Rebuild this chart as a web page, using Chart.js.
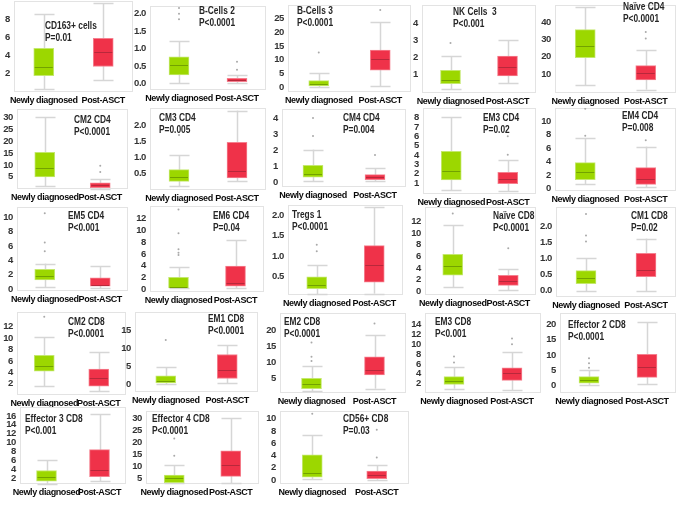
<!DOCTYPE html>
<html lang="en">
<head>
<meta charset="UTF-8">
<title>Newly diagnosed vs Post-ASCT</title>
<style>
  body { margin: 0; background: #fff; }
  #wrap { position: relative; width: 685px; height: 505px; overflow: hidden; }
  #wrap canvas { position: absolute; }
  .ttl {
    position: absolute;
    font: bold 11px 'Liberation Sans', Arial, sans-serif;
    line-height: 12px;
    color: #262626;
    white-space: pre;
    transform: scaleX(0.76);
    transform-origin: 0 0;
  }
</style>
</head>
<body>
<div id="wrap"></div>

<script src="https://cdn.jsdelivr.net/npm/chart.js"></script>
<script>
// groups on every x axis
const groups = ['Newly diagnosed', 'Post-ASCT'];

const cellTypes = [
  'CD163+ cells', 'B-Cells 2', 'B-Cells 3', 'NK Cells  3', 'Naïve CD4',
  'CM2 CD4', 'CM3 CD4', 'CM4 CD4', 'EM3 CD4', 'EM4 CD4',
  'EM5 CD4', 'EM6 CD4', 'Tregs 1', 'Naïve CD8', 'CM1 CD8',
  'CM2 CD8', 'EM1 CD8', 'EM2 CD8', 'EM3 CD8', 'Effector 2 CD8',
  'Effector 3 CD8', 'Effector 4 CD8', 'CD56+ CD8'
];

const pValues = [
  'P=0.01', 'P<0.0001', 'P<0.0001', 'P<0.001', 'P<0.0001',
  'P<0.0001', 'P=0.005', 'P=0.004', 'P=0.02', 'P=0.008',
  'P<0.001', 'P=0.04', 'P<0.0001', 'P<0.0001', 'P=0.02',
  'P<0.0001', 'P<0.0001', 'P<0.0001', 'P<0.001', 'P<0.0001',
  'P<0.001', 'P<0.0001', 'P=0.03'
];

// [min, q1, median, q3, max]
const newlyBox = [
  [0.3, 1.8, 2.7, 4.8, 8.6], [0.02, 0.25, 0.53, 0.77, 1.21], [0.2, 0.6, 1.4, 2.5, 5.1],
  [0.15, 0.48, 0.67, 1.26, 2.09], [3.9, 19.5, 26.5, 35.7, 48.6],
  [1.2, 5, 8.9, 15.3, 30], [0.09, 0.24, 0.38, 0.61, 1.07], [0.04, 0.3, 0.5, 1.04, 2.04],
  [0.24, 1.34, 2.3, 4.4, 8.07], [0.7, 1.3, 2.4, 3.85, 7.55],
  [0.22, 1.29, 1.78, 2.76, 3.56], [0.16, 0.27, 0.43, 2.05, 3.84], [0.08, 0.21, 0.29, 0.5, 0.79],
  [0.7, 2.75, 4.4, 6.35, 11.4], [0, 0.22, 0.4, 0.63, 1.01],
  [1.6, 4.2, 5.2, 7, 10.2], [0.26, 0.53, 1.14, 2.46, 4.9], [1, 1.8, 3.3, 5, 9],
  [0.97, 1.8, 2.6, 3.4, 5.35], [0.1, 0.8, 1.9, 2.94, 5],
  [0.7, 1.3, 2.2, 3.7, 6.0], [2.9, 3.2, 5, 6.4, 10.6], [0.23, 0.47, 1.16, 4.1, 7.35]
];
const postBox = [
  [1.35, 2.8, 4.4, 5.9, 9.8], [0.02, 0.06, 0.11, 0.15, 0.25], [0.6, 6.3, 10.4, 13.5, 23.5],
  [0.54, 0.94, 1.44, 2.09, 3.02], [1.1, 6.6, 10.9, 14.9, 24.1],
  [0.1, 0.5, 1.4, 2.5, 4.1], [0.24, 0.35, 0.56, 1.47, 2.47], [0.04, 0.14, 0.3, 0.46, 0.9],
  [0.14, 0.93, 1.45, 2.14, 3.5], [0.15, 0.6, 1.35, 3.1, 6.25],
  [0.09, 0.4, 0.5, 1.56, 3.2], [0.16, 0.54, 1.0, 3.95, 8.4], [0.09, 0.37, 0.79, 1.26, 2.19],
  [0.17, 1, 1.8, 2.75, 3.75], [0, 0.44, 0.64, 1.16, 1.62],
  [0.7, 1.6, 2.95, 4.6, 7.55], [0.5, 1.75, 4, 8.4, 11.05], [1.8, 6.1, 7.6, 11.8, 18.6],
  [0.7, 2.65, 4.05, 5.2, 8.4], [0.6, 2.7, 6.0, 10.2, 20.7],
  [1.3, 2.3, 3.9, 8.4, 16.4], [2.9, 5.8, 10.6, 16.5, 30.2], [0.1, 0.23, 0.8, 1.49, 2.42]
];

const newlyOutliers = [
  [], [1.84, 2.0, 2.16], [12.7], [2.85], [],
  [], [1.7], [2.9, 4.04], [], [7.85, 11.9],
  [5.3, 6.5, 10.6], [5.8, 6.2, 6.8, 9.5, 13.5], [1.12, 1.28], [13.4], [1.53, 1.72, 2.38],
  [13.7], [12.4], [10.5, 11.8, 16.3], [6.3, 7.5], [5.8, 7.3, 8.9],
  [], [14.5, 21.7], [10.8]
];
const postOutliers = [
  [], [0.4, 0.63], [28], [], [30.6, 34.3],
  [7, 9.7], [], [1.7], [4.03, 6], [7.2],
  [], [], [], [7.4], [],
  [], [], [22.3], [10, 11.2], [],
  [], [], [3.7, 8.2]
];

const yTicks = [
  [2, 4, 6, 8], [0, 0.5, 1, 1.5, 2], [0, 5, 10, 15, 20, 25], [1, 2, 3, 4], [10, 20, 30, 40],
  [5, 10, 15, 20, 25, 30], [0.5, 1, 1.5, 2], [0, 1, 2, 3, 4], [1, 2, 3, 4, 5, 6, 7, 8], [0, 2, 4, 6, 8, 10],
  [0, 2, 4, 6, 8, 10], [0, 2, 4, 6, 8, 10, 12], [0.5, 1, 1.5, 2], [0, 2, 4, 6, 8, 10, 12], [0, 0.5, 1, 1.5, 2],
  [2, 4, 6, 8, 10, 12], [0, 5, 10, 15], [5, 10, 15, 20], [2, 4, 6, 8, 10, 12, 14], [0, 5, 10, 15, 20],
  [2, 4, 6, 8, 10, 12, 14, 16], [5, 10, 15, 20, 25, 30], [0, 2, 4, 6, 8, 10]
];
const yLimits = [
  [0, 10], [-0.18, 2.22], [-1.6, 29.8], [-0.06, 5.06], [-0.9, 49.9],
  [-0.1, 33.5], [-0.03, 2.55], [-0.32, 4.6], [-0.17, 9.03], [-0.39, 12.0],
  [-0.27, 11.47], [-0.44, 14.1], [0.056, 2.25], [-0.66, 14.5], [-0.19, 2.6],
  [0.05, 14.55], [-2.0, 20.2], [0.4, 25.6], [0.06, 16.4], [-2.4, 23.7],
  [0.65, 18.0], [2.62, 33.2], [-0.62, 11.23]
];

// layout: plot area [left, top, right, bottom] and title [left, top]
const frames = [
  [14, 1, 133, 92, 45, 19], [150, 2, 270, 90, 199, 4], [288, 1, 415, 92, 297, 4],
  [422, 1, 540, 93, 453, 5], [555, 1, 680, 93, 623, 0],
  [17, 105, 132, 189, 74, 113], [150, 104, 270, 190, 159, 111], [282, 105, 410, 187, 343, 111],
  [423, 104, 540, 194, 483, 111], [555, 104, 680, 191, 622, 109],
  [17, 203, 132, 291, 68, 209], [150, 202, 268, 292, 213, 209], [288, 201, 407, 295, 292, 208],
  [425, 203, 540, 295, 493, 209], [556, 203, 680, 297, 631, 209],
  [17, 308, 130, 395, 68, 315], [135, 308, 262, 392, 208, 312], [280, 309, 410, 393, 284, 315],
  [425, 309, 545, 393, 435, 315], [560, 309, 680, 393, 568, 318],
  [20, 407, 126, 484, 25, 412], [146, 407, 263, 484, 152, 412], [280, 407, 413, 484, 343, 412]
];

const AXIS_W = 20;
const AXIS_H = 16;
const BOX_W = 20;
const fillColors = ['#9cd700', '#ef3249'];
const edgeColors = ['#c4e86e', '#f5808f'];
const medianColors = ['#72a200', '#b8283b'];
const FONT = "'Liberation Sans', Arial, sans-serif";

// whiskers, caps, medians and the plot frame, all placed with the chart's scales
const boxParts = {
  id: 'boxParts',
  beforeDraw(chart) {
    chart.ctx.letterSpacing = '-0.4px';
  },
  beforeDatasetsDraw(chart, args, opts) {
    const { ctx, chartArea: a } = chart;
    const x = chart.scales.x, y = chart.scales.y;
    ctx.save();
    ctx.strokeStyle = '#e3e3e3';
    ctx.lineWidth = 1;
    ctx.strokeRect(a.left + 0.5, a.top + 0.5, a.width - 1, a.height - 1);
    ctx.strokeStyle = '#d6d6d6';
    ctx.lineWidth = 1.5;
    opts.stats.forEach((s, i) => {
      const cx = Math.round(x.getPixelForValue(i)) + 0.5;
      ctx.beginPath();
      ctx.moveTo(cx, y.getPixelForValue(s[0]));
      ctx.lineTo(cx, y.getPixelForValue(s[4]));
      [s[0], s[4]].forEach(v => {
        const py = Math.round(y.getPixelForValue(v)) + 0.5;
        ctx.moveTo(cx - BOX_W / 2, py);
        ctx.lineTo(cx + BOX_W / 2, py);
      });
      ctx.stroke();
    });
    ctx.restore();
  },
  afterDatasetsDraw(chart, args, opts) {
    const { ctx } = chart;
    const x = chart.scales.x, y = chart.scales.y;
    ctx.save();
    ctx.lineWidth = 1;
    opts.stats.forEach((s, i) => {
      const cx = x.getPixelForValue(i);
      const py = Math.round(y.getPixelForValue(s[2])) + 0.5;
      ctx.strokeStyle = medianColors[i];
      ctx.beginPath();
      ctx.moveTo(cx - BOX_W / 2 + 1, py);
      ctx.lineTo(cx + BOX_W / 2 - 1, py);
      ctx.stroke();
    });
    ctx.restore();
  }
};

const wrap = document.getElementById('wrap');

cellTypes.forEach((name, k) => {
  const [L, T, R, B, tx, ty] = frames[k];
  const canvas = document.createElement('canvas');
  canvas.width = R - L + AXIS_W;
  canvas.height = B - T + AXIS_H;
  canvas.style.left = (L - AXIS_W) + 'px';
  canvas.style.top = T + 'px';
  wrap.appendChild(canvas);

  const title = document.createElement('div');
  title.className = 'ttl';
  title.style.left = tx + 'px';
  title.style.top = ty + 'px';
  title.textContent = name + '\n' + pValues[k];
  wrap.appendChild(title);

  const stats = [newlyBox[k], postBox[k]];
  const dots = [];
  newlyOutliers[k].forEach(v => dots.push({ x: groups[0], y: v }));
  postOutliers[k].forEach(v => dots.push({ x: groups[1], y: v }));
  const ticks = yTicks[k];
  const decimals = ticks.some(v => v % 1 !== 0) ? 1 : 0;

  new Chart(canvas, {
    type: 'bar',
    data: {
      labels: groups,
      datasets: [
        {
          type: 'scatter',
          data: dots,
          pointRadius: 1,
          pointBackgroundColor: '#a9a9a9',
          pointBorderWidth: 0,
          order: 0
        },
        {
          data: stats.map(s => [s[1], s[3]]),
          backgroundColor: fillColors,
          borderColor: edgeColors,
          borderWidth: 1,
          borderSkipped: false,
          barThickness: BOX_W,
          order: 1
        }
      ]
    },
    options: {
      responsive: false,
      animation: false,
      events: [],
      layout: { padding: 0 },
      plugins: {
        legend: { display: false },
        tooltip: { enabled: false },
        boxParts: { stats: stats }
      },
      scales: {
        x: {
          type: 'category',
          offset: true,
          grid: { display: false, drawTicks: false },
          border: { display: false },
          ticks: {
            autoSkip: false, maxRotation: 0, minRotation: 0, padding: 3,
            color: '#0a0a0a', font: { family: FONT, size: 9, weight: 'bold' }
          },
          afterFit(s) { s.height = AXIS_H; s.paddingLeft = 0; s.paddingRight = 0; }
        },
        y: {
          type: 'linear',
          min: yLimits[k][0],
          max: yLimits[k][1],
          grid: { display: false, drawTicks: false },
          border: { display: false },
          afterBuildTicks(s) { s.ticks = ticks.map(v => ({ value: v })); },
          ticks: {
            autoSkip: false, padding: 4,
            color: '#333', font: { family: FONT, size: 9.5, weight: 'bold' },
            callback: v => Number(v).toFixed(decimals)
          },
          afterFit(s) { s.width = AXIS_W; s.paddingTop = 0; s.paddingBottom = 0; }
        }
      }
    },
    plugins: [boxParts]
  });
});
</script>
</body>
</html>
